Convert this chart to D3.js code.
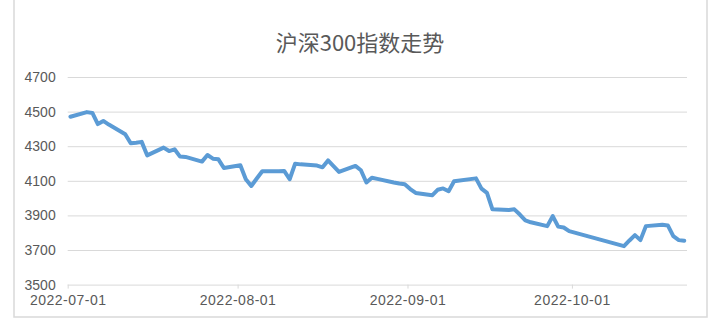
<!DOCTYPE html>
<html>
<head>
<meta charset="utf-8">
<script src="https://cdn.jsdelivr.net/npm/d3@7"></script>
<style>
  body { margin: 0; background: #fff; }
  svg { display: block; font-family: "Liberation Sans", Arial, sans-serif; }
</style>
</head>
<body>
<svg width="723" height="334"></svg>
<script>
const title = '沪深300指数走势';

const dates = [
  '2022-07-01', '2022-07-04', '2022-07-05', '2022-07-06', '2022-07-07', '2022-07-08',
  '2022-07-11', '2022-07-12', '2022-07-13', '2022-07-14', '2022-07-15',
  '2022-07-18', '2022-07-19', '2022-07-20', '2022-07-21', '2022-07-22',
  '2022-07-25', '2022-07-26', '2022-07-27', '2022-07-28', '2022-07-29',
  '2022-08-01', '2022-08-02', '2022-08-03', '2022-08-04', '2022-08-05',
  '2022-08-08', '2022-08-09', '2022-08-10', '2022-08-11', '2022-08-12',
  '2022-08-15', '2022-08-16', '2022-08-17', '2022-08-18', '2022-08-19',
  '2022-08-22', '2022-08-23', '2022-08-24', '2022-08-25', '2022-08-26',
  '2022-08-29', '2022-08-30', '2022-08-31', '2022-09-01', '2022-09-02',
  '2022-09-05', '2022-09-06', '2022-09-07', '2022-09-08', '2022-09-09',
  '2022-09-13', '2022-09-14', '2022-09-15', '2022-09-16',
  '2022-09-19', '2022-09-20', '2022-09-21', '2022-09-22', '2022-09-23',
  '2022-09-26', '2022-09-27', '2022-09-28', '2022-09-29', '2022-09-30',
  '2022-10-10', '2022-10-11', '2022-10-12', '2022-10-13', '2022-10-14',
  '2022-10-17', '2022-10-18', '2022-10-19', '2022-10-20', '2022-10-21',
];

const closes = [
  4470, 4497, 4492, 4428, 4446, 4425,
  4369, 4317, 4320, 4325, 4247,
  4292, 4272, 4282, 4240, 4238,
  4211, 4249, 4228, 4224, 4174,
  4190, 4109, 4070, 4113, 4155,
  4155, 4157, 4109, 4199, 4195,
  4188, 4178, 4218, 4185, 4151,
  4186, 4161, 4090, 4118, 4111,
  4090, 4084, 4080, 4052, 4030,
  4016, 4048, 4056, 4040, 4097,
  4114, 4055, 4030, 3935,
  3931, 3935, 3905, 3871, 3860,
  3838, 3896, 3835, 3830, 3809,
  3722, 3755, 3786, 3757, 3838,
  3846, 3842, 3780, 3757, 3753,
];

const yTicks = [3500, 3700, 3900, 4100, 4300, 4500, 4700];
const xTicks = ['2022-07-01', '2022-08-01', '2022-09-01', '2022-10-01'];
const axisRange = ['2022-07-01', '2022-10-22'];

const svg = d3.select('svg');
const margin = { left: 67.7, right: 687, top: 77, bottom: 284.6 };
const parse = d3.utcParse('%Y-%m-%d');
const grey = '#595959';
const gridColor = '#d9d9d9';

// chart area border
svg.append('rect')
  .attr('x', 14)
  .attr('y', -2)
  .attr('width', 693)
  .attr('height', 319)
  .attr('fill', '#fff')
  .attr('stroke', gridColor)
  .attr('stroke-width', 1.5);

const x = d3.scaleUtc()
  .domain(axisRange.map(parse))
  .range([margin.left, margin.right]);

const y = d3.scaleLinear()
  .domain([3500, 4700])
  .range([margin.bottom, margin.top]);

// gridlines + y labels
const yAxis = d3.axisLeft(y)
  .tickValues(yTicks)
  .tickSize(-(margin.right - margin.left))
  .tickPadding(12)
  .tickFormat(d3.format('d'));

svg.append('g')
  .attr('transform', `translate(${margin.left},0)`)
  .call(yAxis)
  .call(g => g.select('.domain').remove())
  .call(g => g.selectAll('line').attr('stroke', gridColor))
  .call(g => g.selectAll('text')
    .attr('fill', grey)
    .style('font-size', '14px'));

// x axis
const xAxis = d3.axisBottom(x)
  .tickValues(xTicks.map(parse))
  .tickSize(4)
  .tickPadding(6)
  .tickFormat(d3.utcFormat('%Y-%m-%d'));

svg.append('g')
  .attr('transform', `translate(0,${margin.bottom})`)
  .call(xAxis)
  .call(g => g.select('.domain').remove())
  .call(g => g.selectAll('line').attr('stroke', gridColor))
  .call(g => g.selectAll('text')
    .attr('fill', grey)
    .style('font-size', '14px')
    .style('letter-spacing', '0.5px'));

// points sit in the middle of each day slot
const series = dates.map((d, i) => ({ date: d3.utcHour.offset(parse(d), 12), value: closes[i] }));

const line = d3.line()
  .x(d => x(d.date))
  .y(d => y(d.value));

svg.append('path')
  .datum(series)
  .attr('d', line)
  .attr('fill', 'none')
  .attr('stroke', '#5b9bd5')
  .attr('stroke-width', 4)
  .attr('stroke-linejoin', 'round')
  .attr('stroke-linecap', 'round');

svg.append('text')
  .attr('x', 360)
  .attr('y', 51)
  .attr('text-anchor', 'middle')
  .attr('fill', grey)
  .style('font-family', '"Noto Sans CJK SC", sans-serif')
  .style('font-size', '22px')
  .text(title);
</script>
</body>
</html>
